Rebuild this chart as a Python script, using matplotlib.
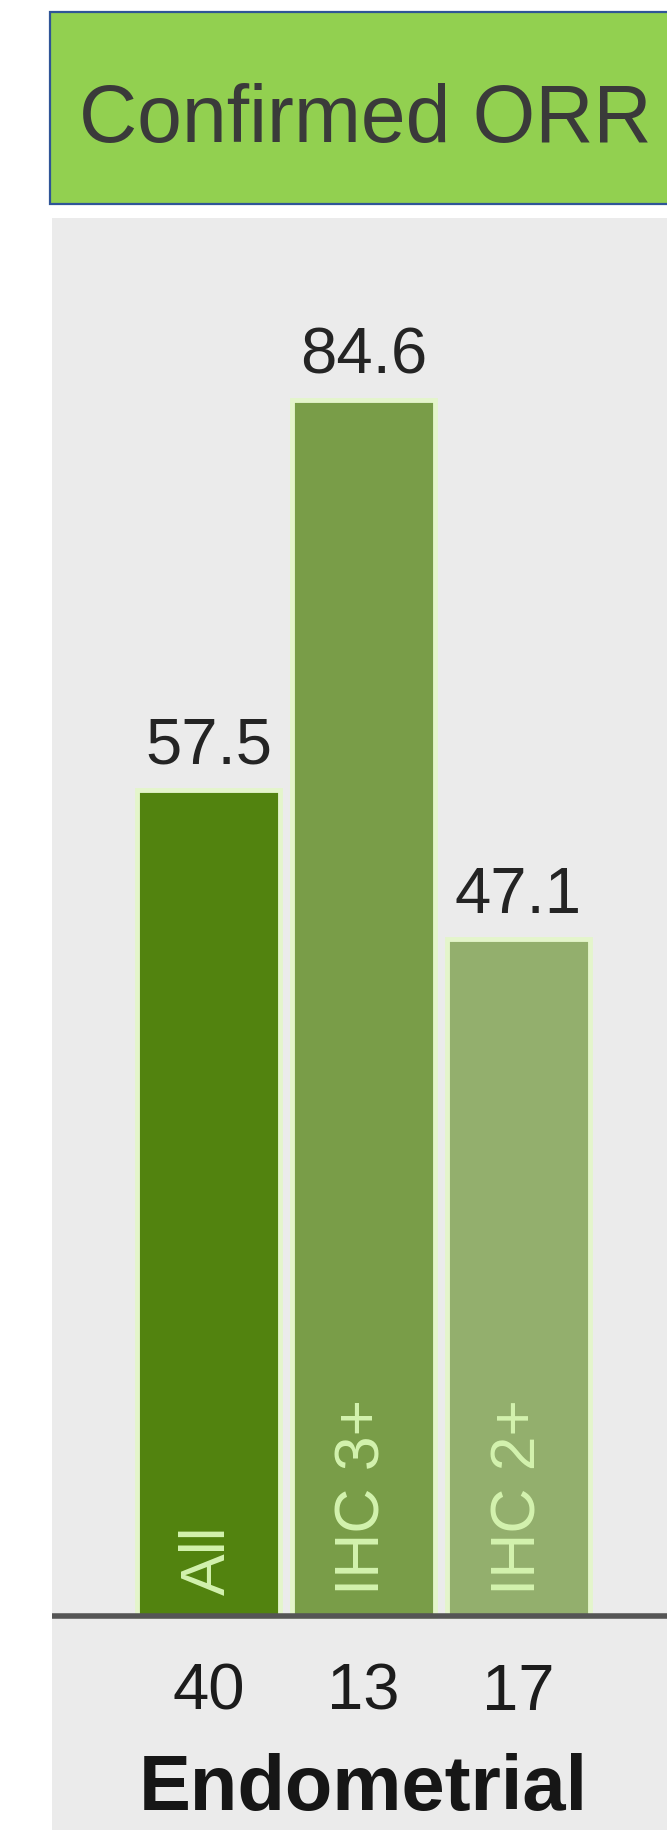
import matplotlib
matplotlib.use("Agg")
import matplotlib.pyplot as plt
from matplotlib.patches import Rectangle

plt.rcParams['font.family'] = ['Liberation Sans', 'DejaVu Sans']

# Data
groups = ["All", "IHC 3+", "IHC 2+"]
orr_values = [57.5, 84.6, 47.1]
patient_counts = [40, 13, 17]
cohort = "Endometrial"
header = "Confirmed ORR"

bar_colors = ["#52830F", "#799D48", "#93AF6D"]

W, H = 667, 1830
fig = plt.figure(figsize=(W / 100, H / 100), dpi=100)
fig.patch.set_facecolor("white")

# Header banner
banner = Rectangle((50 / W, 1 - 204 / H), 1.0, 192 / H, transform=fig.transFigure,
                   facecolor="#92D050", edgecolor="#2F5597", linewidth=1.6, zorder=1)
fig.patches.append(banner)
fig.text(79 / W, 1 - 121 / H, header, fontsize=58, color="#3A3A3A",
         ha="left", va="center")

# Chart panel
panel_top = 218
baseline_px = 1616
px_per_unit = 14.37
ax = fig.add_axes([52 / W, 0, (W - 52) / W, (H - panel_top) / H])
ax.set_facecolor("#EBEBEB")
ax.set_ylim(-(H - baseline_px) / px_per_unit, (baseline_px - panel_top) / px_per_unit)
x = list(range(len(groups)))
unit_px = 155
ax.set_xlim(-(208.5 - 52) / unit_px, (W - 208.5) / unit_px)
for s in ax.spines.values():
    s.set_visible(False)
ax.set_xticks([])
ax.set_yticks([])

bars = ax.bar(x, orr_values, width=0.92, color=bar_colors,
              edgecolor="#E4F5CB", linewidth=3.5, zorder=2)

ax.axhline(0, color="#555555", linewidth=4, zorder=3)

for xi, v, g in zip(x, orr_values, groups):
    ax.annotate(f"{v}", (xi, v), xytext=(0, 19), textcoords="offset points",
                ha="center", va="baseline", fontsize=47, color="#242424", zorder=4)
    ax.text(xi, 1.45, g, rotation=90, ha="center", va="bottom",
            fontsize=45, color="#D3F2AE", zorder=4)

for xi, n in zip(x, patient_counts):
    ax.text(xi, -6.54, str(n), ha="center", va="baseline",
            fontsize=47, color="#1C1C1C")

ax.text(1.0, -13.5, cohort, ha="center", va="baseline", fontsize=56,
        fontweight="bold", color="#161616")

fig.savefig("out.png", dpi=100)
